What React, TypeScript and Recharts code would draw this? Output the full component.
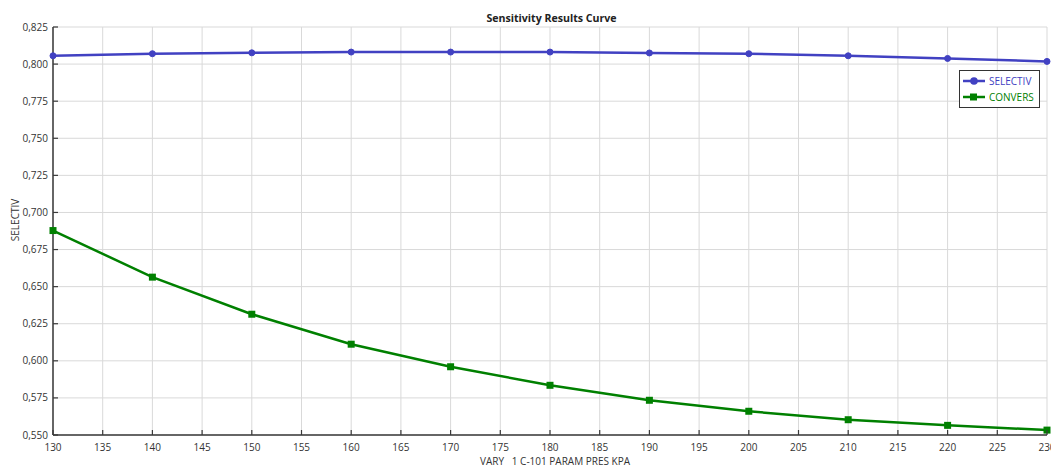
import { LineChart, Line, XAxis, YAxis, CartesianGrid, Legend } from 'recharts'

const PRES_KPA = [130, 140, 150, 160, 170, 180, 190, 200, 210, 220, 230]
const SELECTIV = [0.8056, 0.807, 0.8076, 0.8081, 0.8081, 0.8081, 0.8075, 0.807, 0.8056, 0.8038, 0.8018]
const CONVERS = [0.6878, 0.6564, 0.6314, 0.6112, 0.596, 0.5835, 0.5734, 0.566, 0.5603, 0.5565, 0.5533]

const X_TICKS = [130, 135, 140, 145, 150, 155, 160, 165, 170, 175, 180, 185, 190, 195, 200, 205, 210, 215, 220, 225, 230]
const Y_TICKS = [0.55, 0.575, 0.6, 0.625, 0.65, 0.675, 0.7, 0.725, 0.75, 0.775, 0.8, 0.825]

const TITLE = 'Sensitivity Results Curve'
const X_LABEL = 'VARY   1 C-101 PARAM PRES KPA'
const Y_LABEL = 'SELECTIV'

const FONT = '"Open Sans", "Noto Sans", sans-serif'
const BLUE = '#4141c2'
const GREEN = '#008000'
const TEXT = '#333333'
const AXIS = '#3a3a3a'

const data = PRES_KPA.map((p, i) => ({ p, selectiv: SELECTIV[i], convers: CONVERS[i] }))

const fmtY = (v: number) => v.toFixed(3).replace('.', ',')

// ticks point inward, so draw them ourselves
const XTick = (props: any) => {
  const { x, y, payload } = props
  const axisY = y
  return (
    <g>
      <line x1={x} y1={axisY} x2={x} y2={axisY - 5} stroke={AXIS} strokeWidth={1.2} />
      <text x={x} y={axisY + 16} textAnchor="middle" fontSize={10} fontFamily={FONT} fill={TEXT}>
        {payload.value}
      </text>
    </g>
  )
}

const YTick = (props: any) => {
  const { x, y, payload } = props
  const axisX = x
  return (
    <g>
      <line x1={axisX} y1={y} x2={axisX + 5} y2={y} stroke={AXIS} strokeWidth={1.2} />
      <text x={axisX - 5} y={y + 3.5} textAnchor="end" fontSize={10} fontFamily={FONT} fill={TEXT}>
        {fmtY(payload.value)}
      </text>
    </g>
  )
}

const SquareDot = (props: any) => {
  const { cx, cy, index } = props
  return <rect key={index} x={cx - 3.5} y={cy - 3.5} width={7} height={7} fill={GREEN} />
}

const renderLegend = () => (
  <div
    style={{
      border: '1px solid #333',
      background: '#fff',
      padding: '2px 3px',
      fontFamily: FONT,
      fontSize: 10,
      width: 73,
      boxSizing: 'content-box',
    }}
  >
    {[
      { name: 'SELECTIV', color: BLUE, square: false },
      { name: 'CONVERS', color: GREEN, square: true },
    ].map((s) => (
      <div key={s.name} style={{ display: 'flex', alignItems: 'center', height: 16 }}>
        <svg width={22} height={10}>
          <line x1={0} y1={5} x2={22} y2={5} stroke={s.color} strokeWidth={2.5} />
          {s.square ? (
            <rect x={7} y={1.5} width={7} height={7} fill={s.color} />
          ) : (
            <circle cx={11} cy={5} r={3.8} fill={s.color} />
          )}
        </svg>
        <span style={{ color: s.color, marginLeft: 4 }}>{s.name}</span>
      </div>
    ))}
  </div>
)

export default function App() {
  return (
    <div
      style={{
        position: 'absolute',
        left: 0,
        top: 0,
        width: 1051,
        height: 468,
        overflow: 'hidden',
        background: '#fff',
      }}
    >
      <div
        style={{
          position: 'absolute',
          top: 11,
          left: 0,
          width: 1103,
          textAlign: 'center',
          fontFamily: FONT,
          fontWeight: 700,
          fontSize: 10.6,
          lineHeight: '14px',
          color: '#222',
        }}
      >
        {TITLE}
      </div>
      <LineChart
        width={1070}
        height={468}
        data={data}
        margin={{ top: 27, right: 23, bottom: 0, left: 0 }}
      >
        <CartesianGrid stroke="#d9d9d9" strokeWidth={1} />
        <XAxis
          dataKey="p"
          type="number"
          domain={[130, 230]}
          ticks={X_TICKS}
          interval={0}
          height={33}
          tickSize={0}
          tickMargin={0}
          tick={<XTick />}
          stroke={AXIS}
          strokeWidth={1.5}
          label={{
            content: (p: any) => {
              const vb = p.viewBox
              return (
                <text
                  x={vb.x + vb.width / 2 + 5}
                  y={vb.y + 30}
                  textAnchor="middle"
                  fontSize={10}
                  fontFamily={FONT}
                  fill={TEXT}
                  style={{ whiteSpace: 'pre' }}
                >
                  {X_LABEL}
                </text>
              )
            },
          }}
        />
        <YAxis
          type="number"
          domain={[0.55, 0.825]}
          ticks={Y_TICKS}
          interval={0}
          width={53}
          tickSize={0}
          tickMargin={0}
          tick={<YTick />}
          stroke={AXIS}
          strokeWidth={1.5}
          label={{
            content: () => (
              <text
                x={19}
                y={220}
                transform="rotate(-90 19 220)"
                textAnchor="middle"
                fontSize={10}
                fontFamily={FONT}
                fill={TEXT}
              >
                {Y_LABEL}
              </text>
            ),
          }}
        />
        <Legend
          layout="vertical"
          align="center"
          verticalAlign="middle"
          content={renderLegend}
          wrapperStyle={{ left: 959, top: 70, width: 81, height: 38 }}
        />
        <Line
          dataKey="selectiv"
          name="SELECTIV"
          stroke={BLUE}
          strokeWidth={2.5}
          dot={{ r: 3, fill: BLUE, stroke: BLUE, strokeWidth: 1 }}
          isAnimationActive={false}
        />
        <Line
          dataKey="convers"
          name="CONVERS"
          stroke={GREEN}
          strokeWidth={2.5}
          dot={<SquareDot />}
          isAnimationActive={false}
        />
      </LineChart>
    </div>
  )
}
